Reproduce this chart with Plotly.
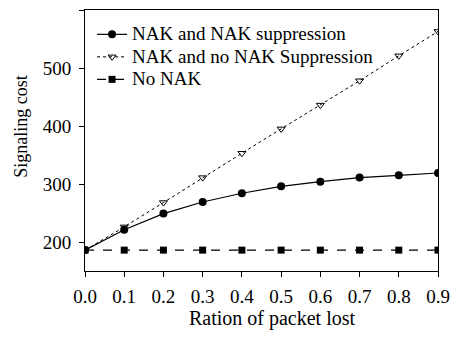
import plotly.graph_objects as go

x_vals = [0.0, 0.1, 0.2, 0.3, 0.4, 0.5, 0.6, 0.7, 0.8, 0.9]
nak_supp = [186, 221, 249, 269, 284, 296, 304, 311, 315, 319]
nak_no_supp = [186, 226, 268, 311, 353, 395, 436, 478, 521, 563]
no_nak = [186, 186, 186, 186, 186, 186, 186, 186, 186, 186]
x_ticks = [0.0, 0.1, 0.2, 0.3, 0.4, 0.5, 0.6, 0.7, 0.8, 0.9]
x_tick_text = ["0.0", "0.1", "0.2", "0.3", "0.4", "0.5", "0.6", "0.7", "0.8", "0.9"]
y_ticks = [200, 300, 400, 500, 600]
series_names = ["NAK and NAK suppression", "NAK and no NAK Suppression", "No NAK"]
x_title = "Ration of packet lost"
y_title = "Signaling cost"

font = "Liberation Serif, Times New Roman, serif"


def legend_label(s):
    return "<span style='font-size:19px'>" + s + "</span>"


fig = go.Figure()
fig.add_trace(go.Scatter(
    x=x_vals, y=nak_supp, mode="lines+markers", name=legend_label(series_names[0]),
    line=dict(color="black", width=1.2),
    marker=dict(symbol="circle", size=8, color="black")))
fig.add_trace(go.Scatter(
    x=x_vals, y=nak_no_supp, mode="lines+markers", name=legend_label(series_names[1]),
    line=dict(color="black", width=1, dash="dot"),
    marker=dict(symbol="triangle-down-open", size=7, color="black", line=dict(width=1))))
fig.add_trace(go.Scatter(
    x=x_vals, y=no_nak, mode="lines+markers", name=legend_label(series_names[2]),
    line=dict(color="black", width=1.2, dash="dash"),
    marker=dict(symbol="square", size=7, color="black")))

fig.update_layout(
    width=459, height=338,
    margin=dict(l=85, r=15, t=9, b=67),
    paper_bgcolor="white", plot_bgcolor="white",
    font=dict(family=font, size=16, color="black"),
    showlegend=True,
    legend=dict(x=0.02, y=0.969, xanchor="left", yanchor="top",
                bgcolor="rgba(0,0,0,0)", font=dict(family=font, size=15, color="black"),
                tracegroupgap=0),
    xaxis=dict(range=[0, 0.9], tickvals=x_ticks, ticktext=x_tick_text,
               showgrid=False, zeroline=False, showline=True, mirror=True,
               linecolor="black", linewidth=1, ticks="outside", ticklen=5,
               tickcolor="black", ticklabelstandoff=3,
               tickfont=dict(family=font, size=19, color="black")),
    yaxis=dict(range=[150, 600], tickvals=y_ticks,
               showgrid=False, zeroline=False, showline=True, mirror=True,
               linecolor="black", linewidth=1, ticks="outside", ticklen=5,
               tickcolor="black", ticklabelstandoff=4,
               tickfont=dict(family=font, size=19, color="black")),
    annotations=[
        dict(text=x_title, xref="paper", yref="paper", x=0.532, y=-0.183,
             xanchor="center", yanchor="middle", showarrow=False,
             font=dict(family=font, size=20, color="black")),
        dict(text=y_title, xref="paper", yref="paper", x=-0.181, y=0.553,
             xanchor="center", yanchor="middle", showarrow=False, textangle=-90,
             font=dict(family=font, size=18, color="black")),
    ],
)

fig.write_html("out.html", config={"displayModeBar": False},
               post_script="document.body.style.margin='0';")
